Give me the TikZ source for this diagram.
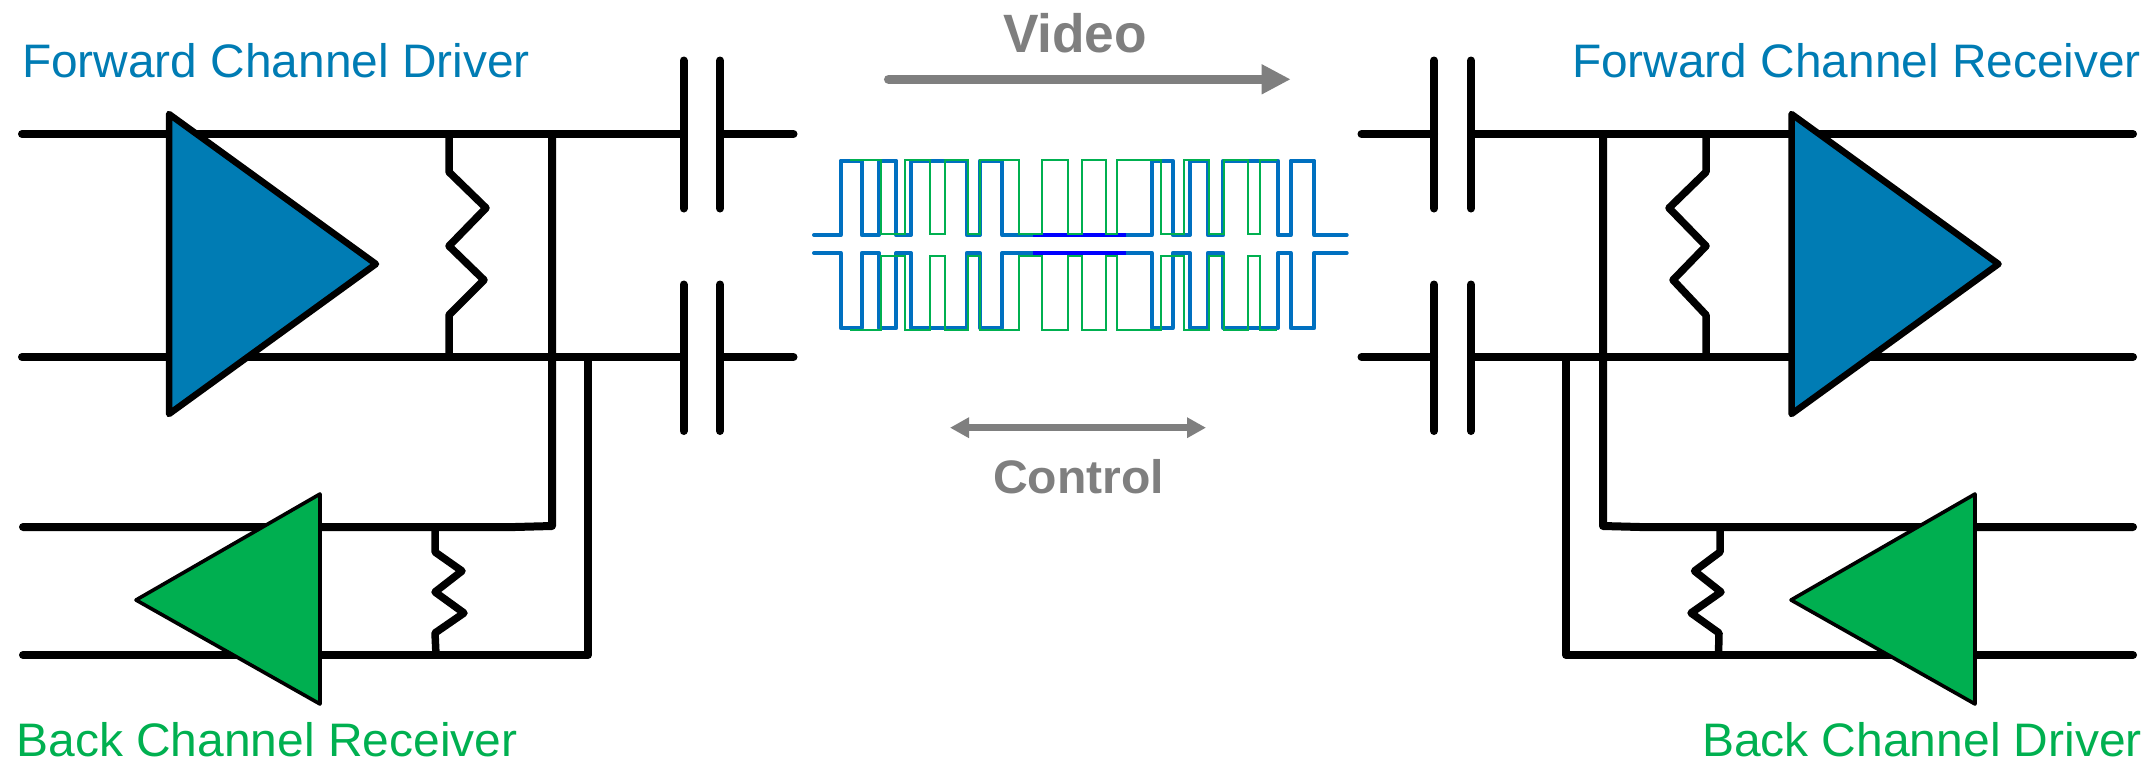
\documentclass[tikz,border=0pt]{standalone}
\usepackage{fontspec}
\usepackage{graphicx}
\setmainfont{Liberation Sans}
\usetikzlibrary{arrows.meta}
\definecolor{tiblue}{HTML}{007CB4}
\definecolor{tigreen}{HTML}{00AF50}
\definecolor{wblue}{HTML}{0070C0}
\definecolor{wgreen}{HTML}{00B050}
\definecolor{agrey}{HTML}{7F7F7F}
\newcommand{\fitw}[3]{\resizebox{#1pt}{\height}{\fontsize{#2}{#2}\selectfont #3}}
\tikzset{
  wire/.style={draw=black,line width=8pt,line cap=round,line join=round},
  thinwire/.style={draw=black,line width=8pt,line cap=round,line join=round},
  res/.style={draw=black,line width=7.5pt,line cap=round,line join=round},
  bigamp/.style={draw=black,line width=6.5pt,line join=round,fill=tiblue},
  smallamp/.style={draw=black,line width=3.6pt,line join=round,fill=tigreen},
  bluewave/.style={draw=wblue,line width=4pt,line join=round,line cap=round},
  greenwave/.style={draw=wgreen,line width=2.3pt,line join=miter},
  idle/.style={draw=blue,line width=4pt},
  lab/.style={anchor=base west,inner sep=0pt,outer sep=0pt},
  bluelab/.style={lab,text=tiblue},
  greenlab/.style={lab,text=wgreen},
  greylab/.style={lab,text=agrey,font=\bfseries},
}
\begin{document}
\begin{tikzpicture}[x=1pt,y=-1pt]
\useasboundingbox[fill=white] (0,0) rectangle (2149,761);
% junction coordinates, left
\coordinate (lt0) at (22,134);   \coordinate (lt1) at (683.5,134);
\coordinate (lt2) at (720,134);  \coordinate (lt3) at (793.5,134);
\coordinate (lb0) at (22,357);   \coordinate (lb1) at (683.5,357);
\coordinate (lb2) at (720,357);  \coordinate (lb3) at (793.5,357);
\coordinate (lv1) at (552,134);  \coordinate (lv2) at (588,357);
\coordinate (lu0) at (23,527); \coordinate (lu1) at (515,527); \coordinate (lu2) at (552,526);
\coordinate (ld0) at (23,655); \coordinate (ld1) at (588,655);
% junction coordinates, right
\coordinate (rt0) at (1361.5,134); \coordinate (rt1) at (1434,134);
\coordinate (rt2) at (1471,134);   \coordinate (rt3) at (2133,134);
\coordinate (rb0) at (1361.5,357); \coordinate (rb1) at (1434,357);
\coordinate (rb2) at (1471,357);   \coordinate (rb3) at (2133,357);
\coordinate (rv1) at (1603,134);   \coordinate (rv2) at (1566,357);
\coordinate (ru0) at (2133,527); \coordinate (ru1) at (1640,527); \coordinate (ru2) at (1603,526);
\coordinate (rd0) at (2133,655); \coordinate (rd1) at (1566,655);
% wires
\draw[wire] (lt0) -- (lt1) (lt2) -- (lt3);
\draw[wire] (lb0) -- (lb1) (lb2) -- (lb3);
\draw[wire] (rt0) -- (rt1) (rt2) -- (rt3);
\draw[wire] (rb0) -- (rb1) (rb2) -- (rb3);
\draw[thinwire] (lu0) -- (lu1) -- (lu2) -- (lv1);
\draw[thinwire] (ld0) -- (ld1) -- (lv2);
\draw[thinwire] (ru0) -- (ru1) -- (ru2) -- (rv1);
\draw[thinwire] (rd0) -- (rd1) -- (rv2);
% capacitors
\foreach \cx in {683.5,720,1434,1471}{
  \draw[wire] (\cx,60.5) -- (\cx,208.5);
  \draw[wire] (\cx,284.5) -- (\cx,431);
}
% resistors
\draw[res] (449,134) -- (449,172) -- (486,208) -- (449,246) -- (484,280) -- (449,315) -- (449,357);
\draw[res] (1706,134) -- (1706,172) -- (1669,208) -- (1706,246) -- (1673,280) -- (1706,315) -- (1706,357);
\draw[res] (435,527) -- (435,552) -- (462,571) -- (435,592) -- (464,613) -- (435,633) -- (436,655);
\draw[res] (1720,527) -- (1720,552) -- (1694.5,571) -- (1721,592) -- (1691,613) -- (1719,633) -- (1718.5,655);
% amplifiers
\draw[bigamp] (169,114) -- (376,264) -- (169,414) -- cycle;
\draw[bigamp] (1791.5,114) -- (1998.5,264) -- (1791.5,414) -- cycle;
\draw[smallamp] (320,494) -- (136,600) -- (320,704) -- cycle;
\draw[smallamp] (1975,494) -- (1791,600) -- (1975,704) -- cycle;
% blue differential waveform
\draw[bluewave] (814,235) -| (840.7,160.7) -| (861.7,235) -| (879,160.7) -| (896.3,235) -| (911,160.7) -| (966.7,235) -| (980,160.7) -| (1002.3,235) -| (1151.7,160.7) -| (1172.7,235) -| (1190,160.7) -| (1207.7,235) -| (1223.3,160.7) -| (1278,235) -| (1290.7,160.7) -| (1314.3,235) -- (1346.7,235);
\draw[bluewave] (814,253) -| (840.7,328) -| (861.7,253) -| (879,328) -| (896.3,253) -| (911,328) -| (966.7,253) -| (980,328) -| (1002.3,253) -| (1151.7,328) -| (1172.7,253) -| (1190,328) -| (1207.7,253) -| (1223.3,328) -| (1278,253) -| (1290.7,328) -| (1314.3,253) -- (1346.7,253);
\draw[idle] (1032.6,235) -- (1126,235) (1032.6,253) -- (1126,253);
% green differential waveform
\draw[greenwave] (850,160) -| (881,234.3) -| (905,160) -| (930.3,234.3) -| (945,160) -| (967.7,234.3) -| (980,160) -| (1019,234.3) -| (1042.3,160) -| (1068.3,234.3) -| (1082,160) -| (1106,234.3) -| (1117.3,160) -| (1161,234.3) -| (1184.3,160) -| (1209.3,234.3) -| (1224,160) -| (1248.3,234.3) -| (1259.7,160) -- (1277.3,160);
\draw[greenwave] (850,330) -| (881,255.7) -| (905,330) -| (930.3,255.7) -| (945,330) -| (967.7,255.7) -| (980,330) -| (1019,255.7) -| (1042.3,330) -| (1068.3,255.7) -| (1082,330) -| (1106,255.7) -| (1117.3,330) -| (1161,255.7) -| (1184.3,330) -| (1209.3,255.7) -| (1224,330) -| (1248.3,255.7) -| (1259.7,330) -- (1277.3,330);
% direction arrows
\coordinate (vs) at (888.6,79.3);  \coordinate (ve) at (1290.7,79.3);
\coordinate (cs) at (950,427.7); \coordinate (ce) at (1206,427.7);
\draw[draw=agrey,line width=9.3pt,line cap=round,-{Triangle[length=29pt,width=28pt,fill=agrey]}] (vs) -- (ve);
\draw[draw=agrey,line width=6.5pt,{Triangle[length=19pt,width=19.5pt,fill=agrey]}-{Triangle[length=19pt,width=19.5pt,fill=agrey]}] (cs) -- (ce);
% labels
\node[bluelab] (fcd) at (22,77) {\fitw{508}{47}{Forward Channel Driver}};
\node[bluelab] (fcr) at (1572,77) {\fitw{569}{47}{Forward Channel Receiver}};
\node[greenlab] (bcr) at (16.5,756) {\fitw{501}{47}{Back Channel Receiver}};
\node[greenlab] (bcd) at (1702,756) {\fitw{440}{47}{Back Channel Driver}};
\node[greylab] (vid) at (1003,52) {\fitw{144}{54}{Video}};
\node[greylab] (ctl) at (993,493) {\fitw{171}{47}{Control}};
\end{tikzpicture}
\end{document}
